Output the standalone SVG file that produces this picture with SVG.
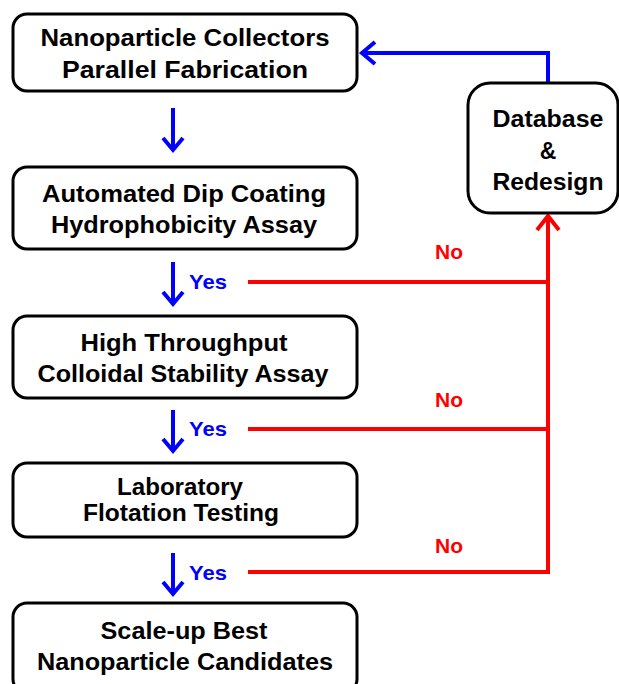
<svg xmlns="http://www.w3.org/2000/svg" width="619" height="684" viewBox="0 0 619 684">
<style>
.box{fill:#fff;stroke:#000;stroke-width:3}
.t{font-family:"Liberation Sans",Arial,sans-serif;font-weight:bold;font-size:23px;fill:#000;text-anchor:middle}
.yes{font-family:"Liberation Sans",Arial,sans-serif;font-weight:bold;font-size:21px;fill:#0000ff}
.no{font-family:"Liberation Sans",Arial,sans-serif;font-weight:bold;font-size:21px;fill:#ff0000;text-anchor:middle}
.bl{fill:none;stroke:#0000ff;stroke-width:4}
.rd{fill:none;stroke:#ff0000;stroke-width:4}
</style>
<g id="connectors">
<path class="bl" d="M173,108 V150 M163,138 L173,150 L183,138"/>
<path class="bl" d="M173,262 V304 M163,292 L173,304 L183,292"/>
<path class="bl" d="M173,410 V451 M163,439 L173,451 L183,439"/>
<path class="bl" d="M173,553 V594 M163,582 L173,594 L183,582"/>
<path class="bl" d="M548,83 V53 H362 M375,42 L362,53 L375,64"/>
<path class="rd" d="M248,282 H548 M248,429 H548 M248,572 H548 V216 M537,230 L548,216 L559,230"/>
<text class="yes" x="189" y="289" textLength="38" lengthAdjust="spacingAndGlyphs">Yes</text>
<text class="yes" x="189" y="436" textLength="38" lengthAdjust="spacingAndGlyphs">Yes</text>
<text class="yes" x="189" y="580" textLength="38" lengthAdjust="spacingAndGlyphs">Yes</text>
<text class="no" x="449" y="259">No</text>
<text class="no" x="449" y="407">No</text>
<text class="no" x="449" y="553">No</text>
</g>
<g id="n1"><rect class="box" x="13" y="14" width="344" height="77" rx="14"/><text class="t" x="185" y="46" textLength="289" lengthAdjust="spacingAndGlyphs">Nanoparticle Collectors</text><text class="t" x="185" y="78" textLength="246" lengthAdjust="spacingAndGlyphs">Parallel Fabrication</text></g>
<g id="n2"><rect class="box" x="13" y="167" width="344" height="82" rx="14"/><text class="t" x="184" y="202" textLength="284" lengthAdjust="spacingAndGlyphs">Automated Dip Coating</text><text class="t" x="184" y="233" textLength="266" lengthAdjust="spacingAndGlyphs">Hydrophobicity Assay</text></g>
<g id="n3"><rect class="box" x="13" y="316" width="344" height="82" rx="14"/><text class="t" x="184" y="351" textLength="207" lengthAdjust="spacingAndGlyphs">High Throughput</text><text class="t" x="183" y="382" textLength="291" lengthAdjust="spacingAndGlyphs">Colloidal Stability Assay</text></g>
<g id="n4"><rect class="box" x="13" y="463" width="344" height="74" rx="14"/><text class="t" x="180" y="495" textLength="126" lengthAdjust="spacingAndGlyphs">Laboratory</text><text class="t" x="181" y="521" textLength="196" lengthAdjust="spacingAndGlyphs">Flotation Testing</text></g>
<g id="n5"><rect class="box" x="13" y="603" width="344" height="90" rx="14"/><text class="t" x="184" y="639" textLength="167" lengthAdjust="spacingAndGlyphs">Scale-up Best</text><text class="t" x="185" y="670" textLength="296" lengthAdjust="spacingAndGlyphs">Nanoparticle Candidates</text></g>
<g id="n6"><rect class="box" x="468" y="83" width="150" height="130" rx="22"/><text class="t" x="548" y="127" textLength="111" lengthAdjust="spacingAndGlyphs">Database</text><text class="t" x="548" y="159">&amp;</text><text class="t" x="548" y="190" textLength="111" lengthAdjust="spacingAndGlyphs">Redesign</text></g>
</svg>
